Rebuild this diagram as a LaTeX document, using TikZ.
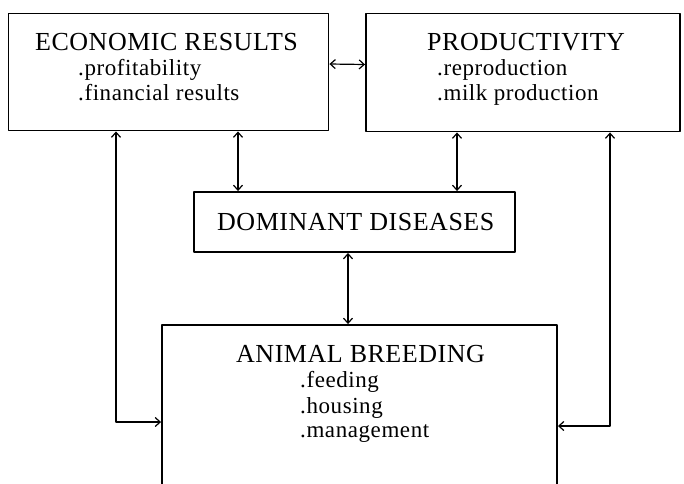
\documentclass[tikz,border=0pt]{standalone}
\usepackage{fontspec}
\setmainfont{Liberation Serif}
\usetikzlibrary{arrows.meta,positioning}

\begin{document}
\begin{tikzpicture}[line cap=round,line join=round,>={Straight Barb[length=5pt,width=9pt]},x=1pt,y=-1pt,
	box/.style={draw,line width=1.9pt,rectangle,inner sep=0pt},
	titolo/.style={font=\fontsize{26}{28}\selectfont\addfontfeatures{LetterSpace=2},inner sep=0pt,anchor=base west},
	voce/.style={font=\fontsize{23}{25}\selectfont\addfontfeatures{LetterSpace=2.5},inner sep=0pt,anchor=base west},
	freccia/.style={<->,line width=1.2pt}]
	\clip (0,0) rectangle (684,483);
	\node[box,minimum width=320pt,minimum height=117pt] (econ) at (168.5,72) {};%economic
	\node[box,minimum width=314pt,minimum height=118pt] (prod) at (523,72.5) {};%productivity
	\node[box,minimum width=321pt,minimum height=60pt] (dom) at (354.5,222) {};%diseases
	\node[box,minimum width=395pt,minimum height=195pt] (anim) at (359.5,422.5) {};%breeding
	\node[titolo] (econT) at (35,50) {ECONOMIC RESULTS};
	\node[voce] (econA) at (78,75) {.profitability};
	\node[voce] (econB) at (78,100) {.financial results};
	\node[titolo] (prodT) at (427,50) {PRODUCTIVITY};
	\node[voce] (prodA) at (437,75) {.reproduction};
	\node[voce] (prodB) at (437,100) {.milk production};
	\node[titolo] (domT) at (217,230) {DOMINANT DISEASES};
	\node[titolo] (animT) at (236,362) {ANIMAL BREEDING};
	\node[voce] (animA) at (300,387) {.feeding};
	\node[voce] (animB) at (300,413) {.housing};
	\node[voce] (animC) at (300,437) {.management};
	% colonne delle frecce
	\coordinate (c1) at (116,422);
	\coordinate (c2) at (238,0);
	\coordinate (c3) at (457,0);
	\coordinate (c4) at (348,0);
	\coordinate (c5) at (610,426);
	\draw[freccia] ([yshift=8pt]econ.east) -- ([yshift=8pt]prod.west);
	\draw[freccia] (econ.south -| c2) -- (dom.north -| c2);
	\draw[freccia] (prod.south -| c3) -- (dom.north -| c3);
	\draw[freccia] (dom.south -| c4) -- (anim.north -| c4);
	\draw[freccia] (econ.south -| c1) -- (c1) -- (anim.west |- c1);%sinistra
	\draw[freccia] (prod.south -| c5) -- (c5) -- (anim.east |- c5);%destra
\end{tikzpicture}
\end{document}
